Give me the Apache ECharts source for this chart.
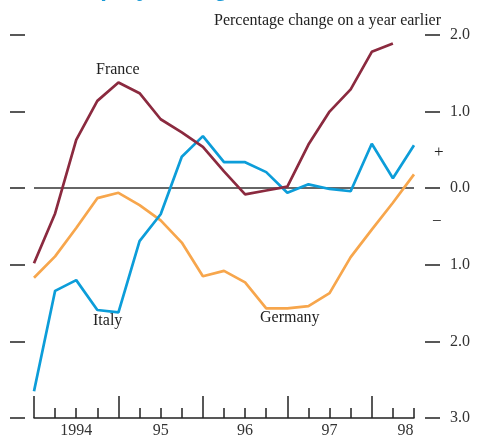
<!DOCTYPE html>
<html><head><meta charset="utf-8">
<script src="https://cdn.jsdelivr.net/npm/echarts@6/dist/echarts.min.js"></script>
<style>html,body{margin:0;padding:0;background:#fff}#c{width:488px;height:443px}</style>
</head><body><div id="c"></div>
<script>
// quarterly observations, 1994 Q1 .. 1998 Q3
var quarters = ['94Q1','94Q2','94Q3','94Q4','95Q1','95Q2','95Q3','95Q4','96Q1','96Q2','96Q3','96Q4','97Q1','97Q2','97Q3','97Q4','98Q1','98Q2','98Q3'];
var france  = [-0.98,-0.33,0.63,1.14,1.38,1.24,0.90,0.73,0.54,0.22,-0.08,-0.03,0.02,0.57,1.00,1.29,1.78,1.89,null];
var italy   = [-2.65,-1.34,-1.20,-1.59,-1.62,-0.69,-0.34,0.41,0.68,0.34,0.34,0.21,-0.06,0.05,-0.01,-0.04,0.58,0.13,0.56];
var germany = [-1.17,-0.89,-0.52,-0.13,-0.06,-0.22,-0.42,-0.71,-1.15,-1.08,-1.23,-1.57,-1.57,-1.54,-1.37,-0.90,-0.54,-0.19,0.18];
var yearLabels = ['1994','95','96','97','98'];
var yearLabelPos = [2,6,10,14,17.6];
var yTicks = [-3,-2,-1,0,1,2];

function pairs(arr){ return arr.map(function(v,i){ return [i, v]; }); }
var serif = '"Liberation Serif","DejaVu Serif",serif';
var chart = echarts.init(document.getElementById('c'), null, {renderer:'canvas'});
var allTicks = quarters.map(function(q,i){return i;});
var majorTicks = allTicks.filter(function(i){return i % 4 === 0;});

chart.setOption({
  animation:false,
  backgroundColor:'#fff',
  grid:{left:34,right:74,top:35,bottom:25},
  xAxis:[{
    type:'value',min:0,max:quarters.length-1,
    axisLine:{show:true,onZero:false,lineStyle:{color:'#222',width:1.5}},
    axisTick:{show:true,inside:true,length:10,customValues:allTicks,lineStyle:{color:'#222',width:1.5}},
    axisLabel:{show:true,customValues:yearLabelPos,margin:5,color:'#333',fontFamily:serif,fontSize:16,
      formatter:function(v){ var k=yearLabelPos.indexOf(v); return k>=0?yearLabels[k]:''; }},
    splitLine:{show:false}
  },{
    type:'value',min:0,max:quarters.length-1,position:'bottom',
    axisLine:{show:false,onZero:false},
    axisTick:{show:true,inside:true,length:22,customValues:majorTicks,lineStyle:{color:'#222',width:1.5}},
    axisLabel:{show:false},splitLine:{show:false}
  }],
  yAxis:[{
    type:'value',min:-3,max:2,interval:1,position:'left',offset:9,
    axisLine:{show:false,onZero:false},
    axisTick:{show:true,length:15,lineStyle:{color:'#222',width:1.5}},
    axisLabel:{show:false},splitLine:{show:false}
  },{
    type:'value',min:-3,max:2,interval:1,position:'right',offset:11,
    axisLine:{show:false,onZero:false},
    axisTick:{show:true,length:15,lineStyle:{color:'#222',width:1.5}},
    axisLabel:{show:true,margin:25,color:'#333',fontFamily:serif,fontSize:16,
      formatter:function(v){return Math.abs(v).toFixed(1);}},
    splitLine:{show:false}
  }],
  series:[
    {name:'Germany',type:'line',data:pairs(germany),symbol:'none',lineStyle:{color:'#F7A64C',width:2.7},z:3},
    {name:'Italy',type:'line',data:pairs(italy),symbol:'none',lineStyle:{color:'#0C9DD9',width:2.7},z:4,
      markLine:{silent:true,symbol:['none','none'],label:{show:false},lineStyle:{color:'#333',width:1.5,type:'solid'},data:[{yAxis:0}],z:2}},
    {name:'France',type:'line',data:pairs(france),symbol:'none',lineStyle:{color:'#8B2A3F',width:2.7},z:5}
  ],
  graphic:[
    {type:'text',left:63,top:-23,style:{text:'Employment growth',fill:'#1A9AD6',font:'bold 24px "Liberation Sans",sans-serif'}},
    {type:'text',right:47,top:13,style:{text:'Percentage change on a year earlier',fill:'#222',font:'16px '+serif}},
    {type:'text',left:96,top:62,style:{text:'France',fill:'#222',font:'16px '+serif}},
    {type:'text',left:93,top:313,style:{text:'Italy',fill:'#222',font:'16px '+serif}},
    {type:'text',left:260,top:310,style:{text:'Germany',fill:'#222',font:'16px '+serif}},
    {type:'text',left:434,top:144,style:{text:'+',fill:'#222',font:'17px '+serif}},
    {type:'text',left:432,top:213,style:{text:'\u2212',fill:'#222',font:'17px '+serif}}
  ]
});
</script></body></html>
